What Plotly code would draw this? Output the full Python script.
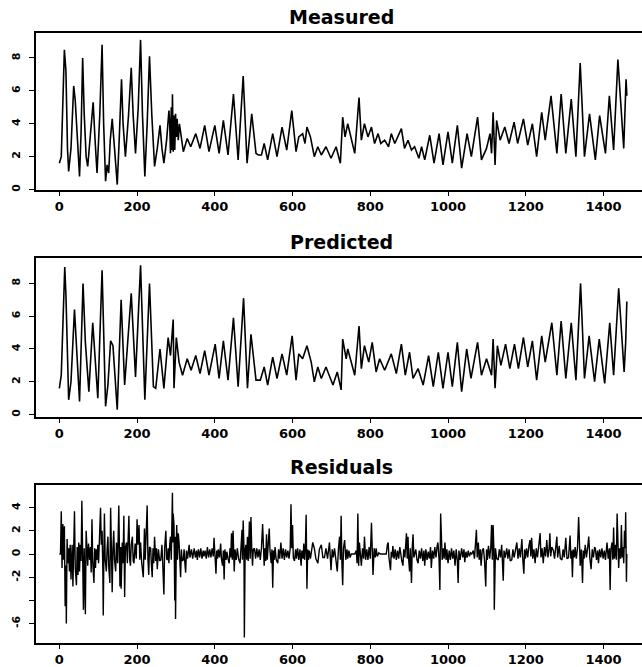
import plotly.graph_objects as go

# ---------------- data ----------------
meas_t = [0,5,13,17,21,24,30,37,41,46,52,56,60,64,69,73,80,87,92,97,104,110,114,119,123,127,131,136,142,149,154,160,164,170,178,185,190,196,203,209,214,220,226,232,238,245,252,259,264,269,276,282,284,286,288,290,291,293,295,297,299,301,303,306,309,319,329,338,351,362,374,385,400,411,422,434,448,460,473,483,495,506,512,520,527,536,549,560,573,585,598,609,616,626,632,637,646,656,665,674,686,699,712,723,729,735,742,760,771,777,785,794,803,811,820,827,837,847,854,863,880,888,897,906,914,925,932,940,953,964,977,987,1000,1011,1024,1035,1049,1060,1076,1086,1099,1108,1112,1116,1121,1125,1134,1146,1157,1170,1179,1194,1205,1217,1228,1241,1250,1265,1280,1291,1303,1317,1329,1340,1351,1364,1379,1390,1405,1415,1426,1437,1452,1456,1458,1460]
meas_v = [1.6,2.0,8.5,7.2,2.5,1.1,2.5,6.3,5.4,3.0,0.8,3.5,8.0,4.6,2.0,1.4,3.5,5.3,3.0,1.0,4.5,8.8,4.0,0.5,1.5,1.0,3.0,4.3,2.5,0.3,3.0,6.7,4.0,2.0,4.5,7.4,4.5,2.2,5.0,9.1,4.5,0.8,4.0,8.1,4.5,1.4,2.5,3.9,2.5,1.6,3.0,4.8,4.0,2.2,5.0,2.4,5.8,2.3,4.5,2.4,4.6,3.2,4.3,3.0,4.0,2.3,3.1,2.6,3.4,2.5,3.9,2.3,3.9,2.2,4.2,2.1,5.8,1.8,6.9,1.6,4.6,2.2,2.1,2.1,2.8,1.8,3.4,2.0,3.8,2.4,4.8,2.3,3.2,3.4,2.8,3.8,3.2,2.0,2.6,2.1,2.6,1.9,2.6,1.6,4.4,3.2,4.0,2.2,5.6,3.0,4.0,3.2,3.8,2.8,3.4,2.8,3.0,2.6,3.4,2.8,3.7,2.5,3.0,2.4,2.6,1.9,2.6,1.8,3.3,1.6,3.4,1.5,3.5,1.6,3.9,1.3,3.4,2.0,4.4,1.8,2.5,3.4,2.2,4.7,1.5,4.2,3.0,3.8,2.8,4.1,2.8,4.3,2.7,4.0,2.0,4.7,3.0,5.7,2.2,5.8,2.2,5.5,2.0,7.7,2.0,4.6,1.8,4.5,2.2,5.7,2.4,7.9,2.5,5.5,6.7,5.7]

pred_t = [0,5,14,17,24,30,39,44,52,61,67,76,86,99,110,119,125,132,138,149,159,168,185,196,209,220,232,242,248,259,269,280,286,293,295,301,308,317,329,339,351,362,374,385,401,411,422,434,448,460,474,484,493,506,517,527,536,549,560,573,585,599,609,616,626,637,648,656,665,674,686,704,715,725,729,738,742,760,771,777,785,796,805,815,824,837,846,854,867,880,890,901,910,923,936,950,962,975,987,1000,1011,1024,1035,1048,1059,1076,1086,1099,1112,1116,1121,1127,1136,1148,1159,1171,1181,1194,1205,1217,1228,1241,1250,1267,1280,1291,1303,1317,1329,1341,1351,1363,1377,1389,1403,1416,1426,1439,1453,1457,1460]
pred_v = [1.6,2.4,9.0,7.3,0.9,2.0,6.4,4.0,0.8,8.0,4.4,1.4,5.6,1.0,8.8,0.5,1.8,4.5,4.2,0.3,7.0,1.8,7.4,2.3,9.1,0.9,8.0,1.7,1.6,4.0,1.6,4.7,3.6,5.8,1.6,4.7,3.2,2.4,3.4,2.7,3.6,2.5,3.9,2.4,4.3,2.2,4.5,2.1,5.9,1.7,7.1,1.6,4.9,2.1,2.1,2.9,1.8,3.5,2.2,3.7,2.4,4.8,2.1,3.7,3.4,4.2,3.2,2.0,2.9,2.2,2.9,1.8,2.6,1.5,4.6,3.4,4.0,2.4,5.4,2.8,4.2,3.2,4.4,2.6,3.4,2.7,3.2,3.7,2.5,4.3,2.4,3.8,2.2,2.8,1.8,3.6,1.7,3.8,1.6,3.8,1.7,4.4,1.4,4.0,2.2,4.4,2.4,3.4,2.4,4.6,1.6,4.2,3.0,4.3,2.8,4.3,2.8,4.7,2.9,4.5,2.1,4.8,3.2,5.6,2.4,5.7,2.2,5.6,2.1,8.0,2.2,4.8,2.0,4.6,1.9,5.6,2.4,7.7,2.6,4.4,6.9]

resid_t = [0,3,5,7,9,11,13,15,17,18,20,22,24,26,28,30,33,35,37,39,41,44,46,48,50,52,54,56,58,60,62,64,67,69,71,73,75,78,80,82,84,86,89,91,93,95,97,99,101,103,106,108,110,112,113,115,116,118,121,123,125,127,130,132,134,136,138,140,142,145,147,150,153,155,156,158,159,162,164,166,167,168,170,173,175,177,179,181,183,185,188,190,192,195,198,200,202,205,207,209,212,216,218,219,221,223,226,228,230,232,235,237,239,241,243,245,248,250,252,255,258,261,264,266,269,271,274,276,278,280,282,284,286,288,290,291,292,293,295,296,297,298,299,301,302,304,306,308,310,312,314,316,319,321,323,325,327,330,334,
           336,340,343,347,350,353,355,358,361,364,367,370,372,375,378,381,384,387,390,393,396,398,400,403,405,407,409,412,415,417,420,422,424,426,429,431,434,437,439,441,443,445,447,449,450,452,455,458,461,465,467,470,471,473,475,476,478,480,482,484,486,489,491,493,495,497,499,502,505,508,511,514,517,520,523,525,527,529,531,533,535,537,540,542,545,547,549,551,553,555,558,562,564,567,570,573,576,579,582,585,588,591,594,596,598,600,602,605,608,610,613,616,619,622,624,627,629,631,633,635,636,637,639,641,643,646,
           652,656,660,665,669,674,678,682,686,690,695,697,699,702,705,708,712,715,718,721,723,725,727,729,731,734,737,740,742,745,748,751,755,760,764,766,768,770,772,775,777,780,783,785,788,791,794,797,800,803,805,807,810,813,815,818,822,826,835,841,844,846,848,850,852,854,856,858,861,864,867,870,873,876,879,881,884,886,889,891,893,895,897,899,901,903,906,908,910,912,914,917,920,923,926,929,932,935,938,940,943,946,949,952,955,957,960,963,966,969,972,974,977,979,981,983,985,988,990,992,995,997,1000,1003,1006,1009,1012,1015,1018,1021,1024,1026,1028,1031,1035,1038,1041,1043,1046,1049,1052,1055,1058,1061,1065,1068,1071,1073,1075,1078,1080,1083,1085,1088,1091,1094,1097,1099,1101,1104,1107,1110,1112,1114,1116,1118,1119,1121,1122,1125,1129,1132,1135,1138,1140,1142,1144,1147,1151,1154,1157,1160,1164,1167,1170,1174,1177,1180,1183,1186,1190,1192,1195,1197,1199,1202,1205,1208,1211,1213,1215,1218,1221,1224,1227,1230,1233,1237,1239,1242,1245,1248,1251,1254,1257,1260,1262,1264,1267,1271,1274,1277,1280,1282,1286,1289,1293,1296,1299,1303,1306,1310,1312,1314,1316,1318,1320,1322,1325,1327,1330,1333,1336,1338,1340,1343,1346,1348,1350,1353,1356,1359,1362,1365,1368,1371,1374,1377,1379,1382,1385,1387,1390,1393,1396,1399,1402,1405,1409,1412,1415,1417,1419,1422,1424,1426,1428,1431,1433,1435,1437,1439,1441,1444,1446,1448,1450,1452,1454,1455,1456,1457,1458,1459,1460]
resid_v = [0,0,3.7,-1.2,2.6,-0.5,2.4,-4.5,-1.0,-6.0,1.3,-0.8,0.5,-1.5,0.8,-2.2,0.8,-2.8,0.5,3.7,-1.2,-2.7,0.6,-1.8,1.0,-1.5,0.8,-0.6,4.6,-1.0,-4.8,0.5,-5.2,2.0,-0.8,-1.0,0.9,-0.5,0.6,-1.6,3.0,-0.7,-2.5,0.5,-1.2,0.4,-0.5,0.8,-0.8,1.2,4.0,0.8,2.0,-1.5,-5.3,1.0,3.5,-0.5,-1.5,0.5,1.5,-1.0,-2.5,4.0,-1.0,-3.3,0.5,2.0,-0.5,-1.5,1.0,-0.8,4.2,-1.0,-2.8,0.6,-3.0,1.0,-0.8,3.3,-1.0,-3.7,0.6,1.0,-0.8,0.8,3.3,-0.5,-1.0,0.8,1.5,-0.6,-0.8,0.9,-0.4,3.0,0.8,2.5,-0.5,1.0,-0.8,-2.0,0.8,2.2,-0.5,1.5,4.2,-0.5,-1.8,0.6,0.5,-1.0,-2.0,0.5,-0.8,1.5,-0.6,0.5,-1.3,0.4,-0.6,-0.5,0.8,-0.8,-3.5,0.5,2.0,-0.4,-0.5,0.5,-0.8,0.8,1.5,-0.5,2.5,5.3,1.0,3.5,2.5,-1.5,-4.0,1.5,-5.6,0.8,2.5,-0.5,1.8,1.0,-0.8,-2.0,0.4,-0.6,-0.5,0.4,-0.8,-1.6,0.3,-0.4,0.8,
           -0.3,0.4,-0.4,0.5,-0.3,0.3,-0.5,0.4,-0.3,0.5,-0.4,0.3,-0.2,0.3,-0.4,0.6,-0.3,0.4,-0.3,0.5,-0.2,1.4,-0.5,-1.7,0.3,-0.4,0.4,-0.3,0.9,-0.4,-1.0,0.3,-2.2,0.4,-0.5,0.2,-0.4,-0.8,0.5,-0.3,1.8,-0.5,2.0,0.5,-1.5,0.4,-0.5,0.5,-0.4,-0.8,0.6,2.1,-0.5,2.9,0.5,-7.2,0.3,0.8,-0.5,1.5,-0.6,2.8,-0.4,3.2,0.5,-1.0,0.4,0.5,-0.4,0.5,-0.3,0.4,-0.5,0.5,2.6,-0.5,-1.0,0.5,-0.6,1.7,-0.5,0.6,2.2,0.3,-0.8,0.4,-2.9,0.3,-0.5,0.6,-0.5,-0.8,0.4,-0.4,1.0,-0.4,0.5,-0.5,0.4,-0.3,0.3,-0.4,0.5,4.3,0.5,2.5,-0.3,-0.6,0.4,-0.4,0.5,-0.5,0.4,-1.0,0.3,-0.4,0.9,-0.5,0.5,3.4,-0.5,-3.0,0.4,-0.5,0.3,-0.4,
           1.0,0.5,-0.4,-0.8,0.4,0.8,-0.3,-0.3,0.5,-0.4,1.0,-0.3,-1.4,0.4,-0.3,0.5,-0.5,-1.5,0.4,1.5,-0.5,3.3,-0.8,-2.7,0.5,1.2,-0.5,0.4,-0.4,0.3,-0.3,0.0,0.0,0.0,0.3,-0.8,3.5,-1.0,1.0,-0.6,-1.0,0.5,-0.4,1.5,-0.5,0.4,-0.5,0.6,-0.4,2.7,-0.5,-1.8,0.5,-0.3,0.5,-0.2,0.1,0.0,0.0,0.0,0.8,1.0,-0.3,-1.2,-1.4,0.2,-0.3,0.7,-0.4,0.4,-0.5,0.3,-0.4,0.6,-0.3,-0.6,-1.0,0.4,-0.3,1.0,1.8,-0.4,1.5,-0.6,-1.5,0.5,-2.5,0.6,1.7,-0.3,0.0,0.4,-0.5,-0.8,0.3,-0.4,0.5,-0.6,0.3,-1.0,0.4,-0.5,0.2,-0.4,0.6,-1.2,0.3,-0.4,0.6,-0.3,0.7,1.0,-0.5,-3.1,3.5,-0.3,-0.5,0.5,-0.4,1.0,-0.5,0.4,-0.8,0.3,-0.5,0.5,-0.4,0.3,-1.0,0.4,-0.6,-2.5,0.3,-0.5,0.5,-0.3,0.4,-0.7,0.2,-0.3,0.3,-0.2,0.1,0.0,0.3,-0.4,0.8,2.1,-0.3,1.0,-0.5,0.4,-1.0,0.3,0.5,-0.6,-2.8,0.4,-0.5,0.7,-0.4,0.6,2.5,-0.5,2.5,0.3,-4.8,0.4,0.5,-0.4,-0.5,0.4,-0.3,0.8,-0.4,-2.3,0.3,-0.3,0.5,-0.4,0.4,-0.6,-0.5,0.4,-0.3,0.6,1.0,-0.4,0.5,-0.3,1.3,-0.3,-1.7,0.4,-0.4,0.5,-0.3,0.7,1.2,-0.2,1.4,-0.4,0.4,-0.8,0.5,-0.3,0.6,1.8,-0.3,0.5,-0.8,0.6,-0.2,1.2,-0.3,0.5,1.8,-0.2,0.6,0.3,-0.4,0.7,1.5,-0.3,0.7,-0.4,-0.5,0.4,-0.3,1.4,-0.4,-0.3,0.5,1.6,-0.4,0.3,-2.0,0.4,-0.3,0.6,-0.4,0.5,3.2,0.2,-1.0,0.4,-2.5,0.3,-0.4,0.8,-0.3,0.5,1.5,-0.4,-1.3,0.4,-0.3,0.6,0.5,-0.5,0.3,-0.8,0.4,-0.3,0.5,-0.4,0.3,-0.5,1.0,-0.4,0.5,-3.1,0.4,1.0,-0.5,2.3,-0.4,0.8,-0.5,3.5,0.3,-1.2,0.5,-0.4,2.5,-0.3,0.6,-0.8,2.0,0.5,1.0,3.6,0.5,-2.4,0.0]

x_ticks = [0, 200, 400, 600, 800, 1000, 1200, 1400]
y_ticks_top = [0, 2, 4, 6, 8]
y_ticks_res = [-6, -4, -2, 0, 2, 4]
y_text_res = ["-6", "", "-2", "0", "2", "4"]
titles = ["Measured", "Predicted", "Residuals"]

# ---------------- figure ----------------
W, H = 642, 667
FONT = "DejaVu Sans"

def ydom(top_px, bot_px):
    return [1 - bot_px / H, 1 - top_px / H]

fig = go.Figure()
line = dict(color="black", width=1.6)
fig.add_trace(go.Scatter(x=meas_t, y=meas_v, mode="lines", line=line, xaxis="x", yaxis="y"))
fig.add_trace(go.Scatter(x=pred_t, y=pred_v, mode="lines", line=line, xaxis="x2", yaxis="y2"))
fig.add_trace(go.Scatter(x=resid_t, y=resid_v, mode="lines", line=dict(color="black", width=1.4),
                         xaxis="x3", yaxis="y3"))

xcommon = dict(domain=[36 / W, 1], range=[-60, 1499], tickmode="array", tickvals=x_ticks,
               ticks="outside", ticklen=4, tickwidth=1, tickcolor="black",
               showline=True, mirror=True, linecolor="black", linewidth=1.5,
               showgrid=False, zeroline=False, automargin=False, ticklabelstandoff=0,
               tickfont=dict(family=FONT, size=13, color="black", weight="bold"))
ycommon = dict(tickmode="array", ticks="outside", ticklen=5, tickwidth=1, tickcolor="black",
               showline=True, mirror=True, linecolor="black", linewidth=1.5,
               showgrid=False, zeroline=False, automargin=False, tickangle=-90,
               ticklabelstandoff=5,
               tickfont=dict(family=FONT, size=11, color="black", weight="bold"))

fig.update_layout(
    width=W, height=H, margin=dict(l=0, r=0, t=0, b=0),
    paper_bgcolor="white", plot_bgcolor="white", showlegend=False,
    xaxis=dict(xcommon, anchor="y"),
    xaxis2=dict(xcommon, anchor="y2"),
    xaxis3=dict(xcommon, anchor="y3"),
    yaxis=dict(ycommon, anchor="x", domain=ydom(33, 190), range=[-0.03, 9.52],
               tickvals=y_ticks_top),
    yaxis2=dict(ycommon, anchor="x2", domain=ydom(258, 417), range=[-0.15, 9.55],
                tickvals=y_ticks_top),
    yaxis3=dict(ycommon, anchor="x3", domain=ydom(485, 643), range=[-7.68, 5.96],
                tickvals=y_ticks_res, ticktext=y_text_res),
)

title_py = [17, 242, 467]
for txt, py in zip(titles, title_py):
    fig.add_annotation(text=txt, x=342 / W, y=1 - py / H, xref="paper", yref="paper",
                       xanchor="center", yanchor="middle", showarrow=False,
                       font=dict(family=FONT, size=19, color="black", weight="bold"))

fig.write_html("out.html", config={"displayModeBar": False},
               post_script="document.body.style.margin='0';document.body.style.overflow='hidden';")
